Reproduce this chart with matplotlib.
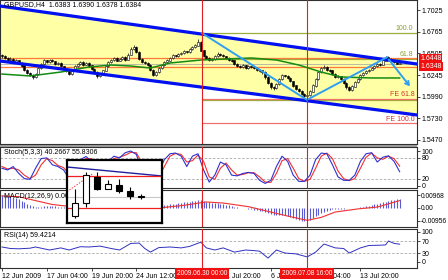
import numpy as np
import matplotlib.pyplot as plt

plt.rcParams['font.family'] = ['Liberation Sans', 'DejaVu Sans']
plt.rcParams['font.size'] = 5

# ---- price data (H4 bars) ----
first_open = 1.6480
closes = [1.6470, 1.6450, 1.6430, 1.6440, 1.6400, 1.6420, 1.6390, 1.6360, 1.6310, 1.6270,
          1.6250, 1.6220, 1.6260, 1.6330, 1.6380, 1.6420, 1.6400, 1.6430, 1.6410, 1.6380,
          1.6390, 1.6350, 1.6320, 1.6290, 1.6260, 1.6300, 1.6350, 1.6380, 1.6400, 1.6370,
          1.6390, 1.6360, 1.6320, 1.6280, 1.6230, 1.6260, 1.6300, 1.6350, 1.6400, 1.6430,
          1.6450, 1.6420, 1.6440, 1.6460, 1.6430, 1.6490, 1.6560, 1.6580, 1.6520, 1.6440,
          1.6400, 1.6390, 1.6370, 1.6310, 1.6250, 1.6280, 1.6330, 1.6370, 1.6400, 1.6420,
          1.6450, 1.6480, 1.6470, 1.6500, 1.6510, 1.6530, 1.6520, 1.6560, 1.6580, 1.6600,
          1.6640, 1.6540, 1.6470, 1.6450, 1.6430, 1.6440, 1.6470, 1.6500, 1.6490, 1.6470,
          1.6450, 1.6430, 1.6420, 1.6380, 1.6350, 1.6340, 1.6360, 1.6330, 1.6350, 1.6340,
          1.6330, 1.6310, 1.6300, 1.6280, 1.6220, 1.6150, 1.6100, 1.6090, 1.6140, 1.6200,
          1.6240, 1.6230, 1.6210, 1.6170, 1.6120, 1.6080, 1.6060, 1.6020, 1.6000, 1.6010,
          1.6050, 1.6120, 1.6200, 1.6280, 1.6330, 1.6340, 1.6310, 1.6300, 1.6260, 1.6220,
          1.6230, 1.6200, 1.6150, 1.6100, 1.6070, 1.6110, 1.6160, 1.6200, 1.6250, 1.6270,
          1.6290, 1.6310, 1.6330, 1.6350, 1.6380, 1.6370, 1.6420, 1.6460, 1.6440, 1.6410,
          1.6400, 1.6383, 1.6384]
highs = [1.6495, 1.6485, 1.6462, 1.6458, 1.6450, 1.6435, 1.6428, 1.6402, 1.6370, 1.6322,
         1.6285, 1.6262, 1.6275, 1.6342, 1.6395, 1.6440, 1.6432, 1.6445, 1.6440, 1.6418,
         1.6405, 1.6398, 1.6360, 1.6330, 1.6298, 1.6315, 1.6362, 1.6395, 1.6418, 1.6410,
         1.6402, 1.6398, 1.6368, 1.6330, 1.6290, 1.6272, 1.6312, 1.6362, 1.6415, 1.6445,
         1.6468, 1.6460, 1.6455, 1.6478, 1.6470, 1.6505, 1.6578, 1.6610, 1.6592, 1.6530,
         1.6452, 1.6415, 1.6402, 1.6380, 1.6320, 1.6295, 1.6342, 1.6385, 1.6412, 1.6435,
         1.6465, 1.6495, 1.6492, 1.6512, 1.6525, 1.6545, 1.6540, 1.6575, 1.6598, 1.6620,
         1.6680, 1.6650, 1.6552, 1.6485, 1.6462, 1.6455, 1.6485, 1.6518, 1.6512, 1.6500,
         1.6480, 1.6462, 1.6442, 1.6430, 1.6390, 1.6362, 1.6375, 1.6368, 1.6362, 1.6360,
         1.6350, 1.6340, 1.6322, 1.6312, 1.6290, 1.6230, 1.6162, 1.6115, 1.6155, 1.6215,
         1.6258, 1.6252, 1.6242, 1.6220, 1.6180, 1.6130, 1.6092, 1.6070, 1.6032, 1.6025,
         1.6065, 1.6135, 1.6215, 1.6298, 1.6348, 1.6362, 1.6352, 1.6322, 1.6310, 1.6272,
         1.6245, 1.6240, 1.6210, 1.6160, 1.6112, 1.6125, 1.6175, 1.6215, 1.6265, 1.6285,
         1.6305, 1.6325, 1.6345, 1.6365, 1.6395, 1.6392, 1.6435, 1.6475, 1.6470, 1.6450,
         1.6420, 1.6405, 1.6390]
lows = [1.6455, 1.6440, 1.6418, 1.6420, 1.6388, 1.6392, 1.6375, 1.6345, 1.6295, 1.6255,
        1.6232, 1.6205, 1.6210, 1.6250, 1.6322, 1.6370, 1.6388, 1.6392, 1.6398, 1.6368,
        1.6370, 1.6338, 1.6305, 1.6278, 1.6245, 1.6252, 1.6292, 1.6340, 1.6372, 1.6360,
        1.6362, 1.6348, 1.6310, 1.6268, 1.6215, 1.6222, 1.6250, 1.6292, 1.6342, 1.6390,
        1.6420, 1.6410, 1.6412, 1.6432, 1.6418, 1.6425, 1.6482, 1.6545, 1.6510, 1.6428,
        1.6388, 1.6375, 1.6355, 1.6295, 1.6232, 1.6240, 1.6272, 1.6322, 1.6360, 1.6392,
        1.6412, 1.6440, 1.6458, 1.6462, 1.6490, 1.6500, 1.6508, 1.6512, 1.6550, 1.6570,
        1.6592, 1.6530, 1.6458, 1.6435, 1.6418, 1.6420, 1.6432, 1.6462, 1.6478, 1.6458,
        1.6440, 1.6418, 1.6408, 1.6368, 1.6338, 1.6328, 1.6330, 1.6320, 1.6322, 1.6330,
        1.6318, 1.6298, 1.6288, 1.6265, 1.6205, 1.6135, 1.6085, 1.6070, 1.6082, 1.6132,
        1.6192, 1.6218, 1.6198, 1.6158, 1.6105, 1.6065, 1.6045, 1.6005, 1.5990, 1.5992,
        1.6002, 1.6042, 1.6110, 1.6190, 1.6270, 1.6318, 1.6298, 1.6288, 1.6248, 1.6208,
        1.6210, 1.6188, 1.6138, 1.6085, 1.6055, 1.6062, 1.6102, 1.6150, 1.6192, 1.6240,
        1.6262, 1.6280, 1.6302, 1.6322, 1.6342, 1.6360, 1.6362, 1.6412, 1.6430, 1.6400,
        1.6388, 1.6375, 1.6378]

# moving average (green) read at a few bars
ma_idx = [0, 10, 21, 31, 39, 46, 53, 60, 71, 89, 98, 106, 114, 121, 132, 142]
ma_val = [1.6259, 1.6236, 1.6283, 1.6343, 1.6367, 1.6355, 1.6331, 1.6391, 1.6427,
          1.6451, 1.6427, 1.6367, 1.6283, 1.6224, 1.6212, 1.6212]

# channel
chan_x = [-0.7, 148.2]
chan_top = [1.7073, 1.6379]
chan_bot = [1.6415, 1.5769]

# zigzag / arrow
zz_x = [71.4, 108.9, 137.5, 146.3]
zz_y = [1.6750, 1.5950, 1.6460, 1.6086]

fib_vals = [1.6750, 1.6444, 1.5950]
fib_labels = ['100.0', '61.8', '']
fe_vals = [1.5966, 1.5673]
fe_labels = ['FE 61.8', 'FE 100.0']
orange_lines = [1.6448, 1.6348]
bid = 1.6384
vlines_idx = [71.4, 108.9]
vline_labels = ['2009.06.30 00:00', '2009.07.08 16:00']

price_ticks = [1.7025, 1.6765, 1.6505, 1.6245, 1.5990, 1.5730, 1.5470]
time_idx = [0, 16, 32, 48, 64, 80, 96, 112, 128]
time_labels = ['12 Jun 2009', '17 Jun 04:00', '19 Jun 20:00', '24 Jun 12:00', '29 Jun 04:00',
               '1 Jul 20:00', '6 Jul 12:00', '9 Jul 04:00', '13 Jul 20:00']

# stochastic, every second bar
sto_main = [50, 45, 55, 35, 20, 18, 50, 78, 80, 60, 55, 45, 20, 50, 75, 84, 70, 20, 30, 70,
            85, 80, 95, 100, 90, 40, 25, 15, 40, 75, 92, 94, 85, 55, 85, 92, 45, 10, 30, 68,
            60, 30, 28, 35, 38, 35, 15, 6, 15, 55, 85, 70, 30, 12, 12, 30, 75, 94, 92, 60,
            25, 15, 15, 30, 70, 92, 95, 68, 82, 86, 70, 40]
sto_sig = [55, 48, 50, 45, 30, 20, 30, 60, 78, 72, 58, 52, 32, 35, 60, 78, 78, 40, 25, 50,
           78, 82, 88, 96, 95, 65, 35, 20, 25, 55, 85, 93, 90, 68, 72, 88, 70, 25, 18, 50,
           65, 45, 30, 32, 37, 37, 25, 10, 9, 35, 72, 78, 50, 20, 12, 18, 50, 85, 94, 78,
           42, 20, 14, 20, 50, 82, 94, 80, 76, 85, 78, 56]

# MACD main (histogram) per bar, in 1e-3
macd_e3 = [9.7, 9.5, 9.2, 8.8, 8.2, 7.4, 6.5, 5.3, 4.1, 3.0, 2.1,
           1.3, 0.9, 0.8, 1.1, 1.4, 1.6, 1.6, 1.5, 1.3, 1.1, 0.8, 0.5,
           0.2, -0.1, -0.4, -0.3, 0.0, 0.3, 0.5, 0.5, 0.3, 0.0, -0.4, -0.7, -0.6, -0.3, 0.2,
           0.8, 1.3, 1.7, 2.0, 2.2, 2.4, 2.9, 3.5, 3.9, 3.9, 3.4, 2.7, 1.9, 1.1, 0.5,
           0.2, 0.3, 0.7, 1.2,
           1.6, 2.0, 2.3, 2.7, 3.0, 3.3, 3.6, 3.9, 4.2, 4.4, 4.7, 5.0, 5.4, 5.9, 5.6,
           5.0, 4.5, 4.1, 3.8, 3.6, 3.4, 3.1, 2.8,
           2.4, 2.0, 1.6, 1.1, 0.6, 0.2, -0.1, -0.3, -0.6, -0.9, -1.2, -1.5, -1.9, -2.4,
           -3.0, -3.7, -4.4, -5.0, -5.2, -5.1,
           -5.0, -5.3, -5.9, -6.6, -7.4, -8.3, -9.0, -9.5, -9.6, -9.3, -8.6, -7.5, -6.3,
           -5.0, -3.9, -2.9,
           -2.0, -1.5, -1.1, -0.8, -0.6, -0.5, -0.4, -0.3, -0.2, -0.1, 0.1, 0.3,
           0.6, 1.0, 1.4, 1.8, 2.2, 2.7, 3.2, 3.7, 4.2, 4.8, 5.3, 5.8, 6.3, 6.6, 6.8]
sig_idx = [0, 6, 12, 18, 24, 35, 45, 57, 65, 73, 79, 88, 95, 102, 109, 114, 119, 127, 134, 142]
sig_e3 = [9.0, 8.4, 5.5, 2.6, 1.2, 0.0, 1.5, 0.2, 2.0, 4.5, 3.7, 1.0, -2.5, -6.0, -9.2,
          -7.0, -3.0, -0.7, 0.7, 5.5]

rsi_idx = [0, 3, 6, 10, 12, 17, 21, 24, 28, 31, 35, 39, 42, 46, 49, 51, 53, 56, 60, 64,
           67, 71, 73, 76, 79, 83, 87, 90, 92, 95, 98, 101, 105, 109, 112, 115, 119, 122,
           124, 128, 131, 135, 137, 138, 140, 142]
rsi_val = [50, 45, 44, 46, 50, 40, 47, 40, 51, 50, 53, 45, 40, 62, 63, 45, 33, 48, 50, 47,
           52, 66, 47, 40, 47, 33, 40, 38, 36, 13, 40, 30, 27, 17, 33, 60, 47, 45, 30, 47,
           55, 56, 57, 70, 62, 59.4]

# zoom-in snapshot box
in_open = [7, 20, 46, 34, 38, 32, 26]
in_close = [20, 48, 34, 39, 32, 27, 26]
in_high = [34, 51, 51, 43, 44, 36, 29]
in_low = [5, 16, 33, 34, 30, 24, 24]

W, H = 448, 280
fig = plt.figure(figsize=(W / 100, H / 100), dpi=100)


def panel(x0, y0, x1, y1, **kw):
    return fig.add_axes([x0 / W, 1 - y1 / H, (x1 - x0) / W, (y1 - y0) / H], **kw)


def ftext(x, y, s, **kw):
    fig.text(x / W, 1 - y / H, s, **kw)


XL = (-0.7, 148.2)
ax_main = panel(0, 0, 417, 144)
ax_sto = panel(0, 147, 417, 188)
ax_macd = panel(0, 190, 417, 227)
ax_rsi = panel(0, 229, 417, 268)

for ax in (ax_main, ax_sto, ax_macd, ax_rsi):
    ax.set_xlim(*XL)
    for s in ax.spines.values():
        s.set_color('#303030')
        s.set_linewidth(0.8)
    ax.yaxis.tick_right()
    ax.tick_params(axis='y', length=2, width=0.5, pad=1.5, labelsize=5)
    ax.tick_params(axis='x', length=0, labelbottom=False)
    for v in vlines_idx:
        ax.axvline(v, color='#E02020', lw=0.8, zorder=6)

# separator between main and sub windows
fig.patches.append(plt.Rectangle((0, 1 - 146.5 / H), 417 / W, 2 / H, transform=fig.transFigure,
                                 color='#9A9A9A', lw=0))

# ---- main window ----
ax = ax_main
ax.set_ylim(1.5422, 1.7145)
ax.set_yticks(price_ticks)
ax.set_yticklabels(['%.4f' % p for p in price_ticks])
ax.fill_between(chan_x, chan_bot, chan_top, color='#FFFFA6', lw=0, zorder=0)

for v, lab in zip(fib_vals, fib_labels):
    ax.hlines(v, vlines_idx[0], XL[1], color='#9AAF3C', lw=0.9, zorder=1)
    if lab:
        ax.text(146.8, v + 0.0012, lab, color='#8A9F30', ha='right', va='bottom',
                fontsize=5, zorder=7)
for v, lab in zip(fe_vals, fe_labels):
    ax.hlines(v, vlines_idx[0], XL[1], color='#F07070', lw=0.9, zorder=1)
    ax.text(147.4, v + 0.0005, lab, color='#D03030', ha='right', va='bottom',
            fontsize=5, zorder=7)
for v in orange_lines:
    ax.axhline(v, color='#FF7A3A', lw=0.9, zorder=1)
ax.axhline(bid, color='#A0A0A0', lw=0.5, zorder=1)

bar_x = np.arange(len(closes))
opens = [first_open] + closes[:-1]
ax.vlines(bar_x, lows, highs, color='black', lw=0.5, zorder=3)
up = [c >= o for o, c in zip(opens, closes)]
ax.bar(bar_x, [abs(c - o) + 0.0002 for o, c in zip(opens, closes)],
       bottom=[min(o, c) for o, c in zip(opens, closes)], width=0.7,
       color=['white' if u else 'black' for u in up], edgecolor='black', lw=0.4, zorder=3)

ax.plot(ma_idx, ma_val, color='#128C12', lw=1.1, zorder=3.5)
ax.plot(chan_x, chan_top, color='#0010F0', lw=2.3, zorder=5)
ax.plot(chan_x, chan_bot, color='#0010F0', lw=2.3, zorder=5)
ax.plot(zz_x[:3], zz_y[:3], color='#2FA0F0', lw=1.4, zorder=5.5)
ax.annotate('', xy=(zz_x[3], zz_y[3]), xytext=(zz_x[2], zz_y[2]),
            arrowprops=dict(arrowstyle='->,head_length=0.5,head_width=0.3', color='#2FA0F0', lw=1.4),
            zorder=5.5)
ax.text(0.8, 1.7085, 'GBPUSD,H4  1.6383 1.6390 1.6378 1.6384', fontsize=5, va='center', zorder=7)

# price boxes on the axis
for v in orange_lines:
    yp = 10 + (1.7025 - v) / 0.0011962
    ftext(420, yp, '%.4f' % v, color='white', fontsize=5, va='center',
          bbox=dict(boxstyle='square,pad=0.15', fc='#F01010', ec='none'))

# ---- stochastic ----
ax = ax_sto
ax.set_ylim(-7.2, 111.6)
ax.set_yticks([100, 80, 20, 0])
ax.set_yticklabels(['100', '80', '20', '0'])
for lv in (80, 20):
    ax.axhline(lv, color='#A8A8A8', lw=0.6, ls=(0, (3, 2)))
sx = np.arange(0, len(closes), 2)
ax.plot(sx, sto_sig, color='#F03030', lw=0.8)
ax.plot(sx, sto_main, color='#3030D0', lw=0.8)
ax.text(0.8, 97, 'Stoch(5,3,3) 40.2667 55.8306', fontsize=5, va='center')

# ---- MACD ----
ax = ax_macd
ax.set_ylim(-0.01416, 0.01341)
ax.set_yticks([0.00968, 0.0, -0.00956])
ax.set_yticklabels(['0.00968', '0.00', '-0.00956'])
ax.tick_params(axis='y', pad=0.8, labelsize=4.8)
ax.vlines(bar_x, 0, [m / 1000 for m in macd_e3], color='#5A5AD8', lw=0.8)
ax.plot(sig_idx, [s / 1000 for s in sig_e3], color='#F03030', lw=0.8)
ax.text(0.8, 0.0082, 'MACD(12,26,9) 0.0066 0.0055', fontsize=5, va='center')

# ---- RSI ----
ax = ax_rsi
ax.set_ylim(-20, 110)
ax.set_yticks([100, 70, 30, 0])
ax.set_yticklabels(['100', '70', '30', '0'])
for lv in (70, 30):
    ax.axhline(lv, color='#A8A8A8', lw=0.6, ls=(0, (3, 2)))
ax.plot(rsi_idx, rsi_val, color='#3030C0', lw=0.7)
ax.text(0.8, 88, 'RSI(14) 59.4214', fontsize=5, va='center')
ax.set_xticks(time_idx)
ax.set_xticklabels(time_labels, ha='left')
ax.tick_params(axis='x', length=2, width=0.5, pad=1.5, labelbottom=True, labelsize=5)

for v, lab in zip(vlines_idx, vline_labels):
    xp = (v - XL[0]) / (XL[1] - XL[0]) * 417
    ftext(xp, 273.5, lab, color='white', fontsize=4.7, ha='center', va='center',
          bbox=dict(boxstyle='square,pad=0.3', fc='#F01010', ec='none'))

# ---- zoom snapshot box ----
ai = panel(67, 160, 162, 223, zorder=10)
ai.set_facecolor('white')
ai.set_xlim(0.27, 8.9)
ai.set_ylim(0, 63)
ai.set_xticks([])
ai.set_yticks([])
for s in ai.spines.values():
    s.set_color('black')
    s.set_linewidth(1.6)
ai.plot([0.27, 8.9], [56, 47], color='#2020A0', lw=1.0)
ai.axhline(47, color='#F02020', lw=0.9)
ai.axhline(15, color='#F02020', lw=0.9)
ai.axhline(26, color='#C8C8C8', lw=0.8)
ai.plot([0.27, 2.66], [31.3, 49.7], color='#F04040', lw=0.7, ls=(0, (1.5, 1.5)))
ix = np.arange(1, len(in_open) + 1)
ai.vlines(ix, in_low, in_high, color='black', lw=0.8, zorder=3)
ai.bar(ix, [max(abs(c - o), 0.6) for o, c in zip(in_open, in_close)],
       bottom=[min(o, c) for o, c in zip(in_open, in_close)], width=0.58,
       color=['white' if c >= o else 'black' for o, c in zip(in_open, in_close)],
       edgecolor='black', lw=0.8, zorder=4)

fig.savefig('out.png', dpi=100)
